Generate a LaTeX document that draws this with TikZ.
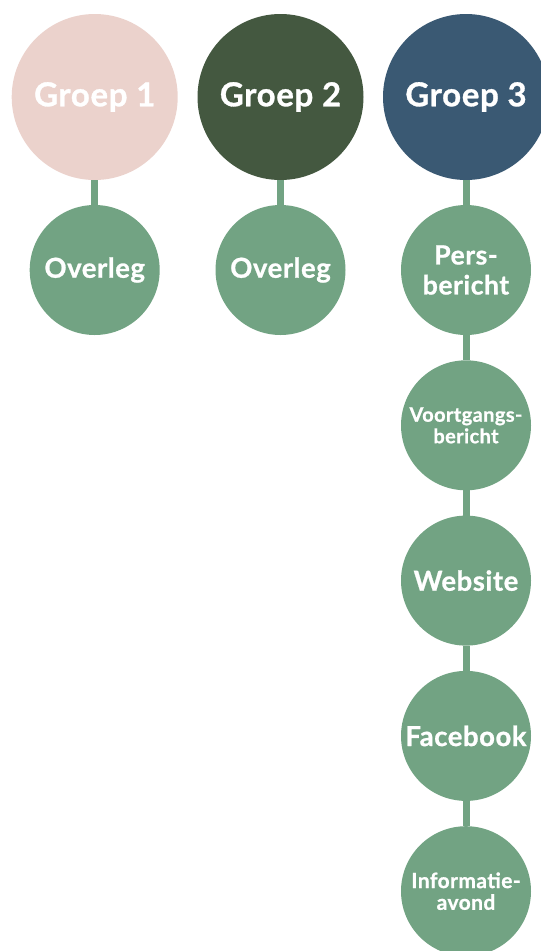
\documentclass[tikz,border=0pt]{standalone}
\usepackage{fontspec}
\setmainfont{Lato}[UprightFont=* Bold,FakeBold=0.9,LetterSpace=2]
\begin{document}
\definecolor{roze}{HTML}{EBD2CC}
\definecolor{donkergroen}{HTML}{445840}
\definecolor{blauw}{HTML}{3A5973}
\definecolor{saliegroen}{HTML}{72A383}
\begin{tikzpicture}[x=1pt,y=-1pt,
  groep/.style={circle,minimum size=166pt,inner sep=0pt,outer sep=0pt,text=white,
    font=\fontsize{33}{36}\selectfont},
  kanaal/.style={circle,minimum size=130pt,inner sep=0pt,outer sep=0pt,fill=saliegroen,
    text=white,align=center,font=\fontsize{27.5}{30}\selectfont},
  verbinding/.style={draw=saliegroen,line width=7pt}]
\useasboundingbox (0,0) rectangle (541,951);
\clip (0,0) rectangle (541,951);

% groepen
\node[groep,fill=roze] (g1) at (94.7,97) {Groep 1};
\node[groep,fill=donkergroen] (g2) at (280.5,97) {Groep 2};
\node[groep,fill=blauw] (g3) at (466,97) {Groep 3};

% middelen per groep
\node[kanaal] (o1) at (94.7,270) {Overleg};
\node[kanaal] (o2) at (280.5,270) {Overleg};
\node[kanaal,font=\fontsize{26.5}{30}\selectfont] (p) at (466,270) {Pers-\\bericht};
\node[kanaal,font=\fontsize{20}{21.5}\selectfont] (v) at (466,425.3) {Voortgangs-\\bericht};
\node[kanaal] (w) at (466,580.6) {Website};
\node[kanaal] (f) at (466,735.9) {Facebook};
\node[kanaal,font=\fontsize{21}{21.7}\selectfont] (i) at (466,891.2) {Informatie-\\avond};

% verbindingen
\draw[verbinding] (g1.south) -- (o1.north);
\draw[verbinding] (g2.south) -- (o2.north);
\draw[verbinding] (g3.south) -- (p.north);
\draw[verbinding] (p.south) -- (v.north);
\draw[verbinding] (v.south) -- (w.north);
\draw[verbinding] (w.south) -- (f.north);
\draw[verbinding] (f.south) -- (i.north);
\end{tikzpicture}
\end{document}
